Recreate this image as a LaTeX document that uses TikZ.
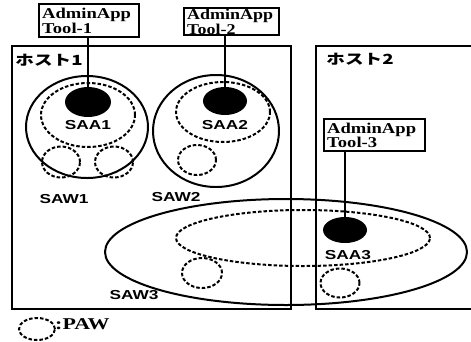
\documentclass[tikz,border=0pt]{standalone}
\usepackage{fontspec}
\setmainfont{Liberation Serif}
\newfontfamily\toolfont{Liberation Serif}
\newfontfamily\labfont{Liberation Sans}
\newfontfamily\hostfont{Noto Sans CJK JP}
\usetikzlibrary{shapes.geometric}
% horizontally widened text
\newcommand\widetxt[2][1.33]{\scalebox{#1}[1]{#2}}
\begin{document}
\begin{tikzpicture}[x=1pt,y=-1pt,
  hostbox/.style={line width=2.8pt},
  wsolid/.style={draw,ellipse,line width=2pt,inner sep=0pt},
  wdash/.style={draw,ellipse,line width=2pt,dash pattern=on 3.5pt off 2pt,inner sep=0pt},
  saa/.style={fill=black,ellipse,inner sep=0pt},
  tool/.style={draw,line width=2.4pt,anchor=north west,align=left,inner xsep=3pt,inner ysep=0pt,
    font=\toolfont\bfseries\fontsize{15}{12}\selectfont},
  lab/.style={font=\labfont\bfseries\fontsize{13}{13}\selectfont,inner sep=0pt},
  hostlab/.style={font=\hostfont\bfseries\fontsize{14}{14}\selectfont,inner sep=0pt},
  link/.style={line width=2.2pt}]
\useasboundingbox (0,0) rectangle (471,341);

% hosts
\draw[hostbox] (12,46) rectangle (291,309);
\draw[hostbox] (471,46) -- (316,46) -- (316,309) -- (471,309);
\node[hostlab] (h1) at (49,60) {\widetxt{ホスト1}};
\node[hostlab] (h2) at (360,59) {\widetxt{ホスト2}};

% SAW1
\node[wsolid,minimum width=122pt,minimum height=102pt] (saw1) at (87,127) {};
\node[wdash,minimum width=94pt,minimum height=64pt] (saa1d) at (88,115) {};
\node[saa,minimum width=46pt,minimum height=30pt] (saa1) at (88,102) {};
\node[lab] (saa1l) at (88,125) {\widetxt{SAA1}};
\node[wdash,minimum width=38pt,minimum height=31pt] (paw1) at (61,162) {};
\node[wdash,minimum width=38pt,minimum height=31pt] (paw2) at (114,162) {};
\node[lab] (saw1l) at (64,199) {\widetxt{SAW1}};

% SAW2
\node[wsolid,minimum width=126pt,minimum height=112pt] (saw2) at (216,131) {};
\node[wdash,minimum width=94pt,minimum height=60pt] (saa2d) at (223,112) {};
\node[saa,minimum width=44pt,minimum height=28pt] (saa2) at (225,101) {};
\node[lab] (saa2l) at (225,125) {\widetxt{SAA2}};
\node[wdash,minimum width=38pt,minimum height=30pt] (paw3) at (197,160) {};
\node[lab] (saw2l) at (176,197) {\widetxt{SAW2}};

% SAW3
\node[wsolid,minimum width=362pt,minimum height=106pt] (saw3) at (286,252) {};
\node[wdash,minimum width=254pt,minimum height=56pt] (saa3d) at (303,238) {};
\node[saa,minimum width=44pt,minimum height=26pt] (saa3) at (345,230) {};
\node[lab] (saa3l) at (348,255) {\widetxt{SAA3}};
\node[wdash,minimum width=40pt,minimum height=30pt] (paw4) at (202,273) {};
\node[wdash,minimum width=39pt,minimum height=29pt] (paw5) at (340,283) {};
\node[lab] (saw3l) at (134,295) {\widetxt{SAW3}};

% admin tools
\node[tool,minimum width=100pt,minimum height=33pt,text width=94pt] (tool1) at (38,3)
  {\widetxt[1.24]{AdminApp}\\\widetxt[1.24]{Tool-1}};
\node[tool,minimum width=95pt,minimum height=27pt,text width=89pt] (tool2) at (183,7)
  {\widetxt[1.2]{AdminApp}\\\widetxt[1.2]{Tool-2}};
\node[tool,minimum width=101pt,minimum height=32pt,text width=95pt] (tool3) at (323,118)
  {\widetxt[1.24]{AdminApp}\\\widetxt[1.24]{Tool-3}};

\draw[link] (saa1.center) -- (saa1.center |- tool1.south);
\draw[link] (saa2.center) -- (saa2.center |- tool2.south);
\draw[link] (saa3.center) -- (saa3.center |- tool3.south);

% legend
\node[wdash,minimum width=36pt,minimum height=22pt] (pawkey) at (37,329) {};
\node[anchor=west,inner sep=0pt,font=\toolfont\bfseries\fontsize{16.5}{16.5}\selectfont] (pawtext) at (55,324) {\widetxt{:PAW}};
\end{tikzpicture}
\end{document}
